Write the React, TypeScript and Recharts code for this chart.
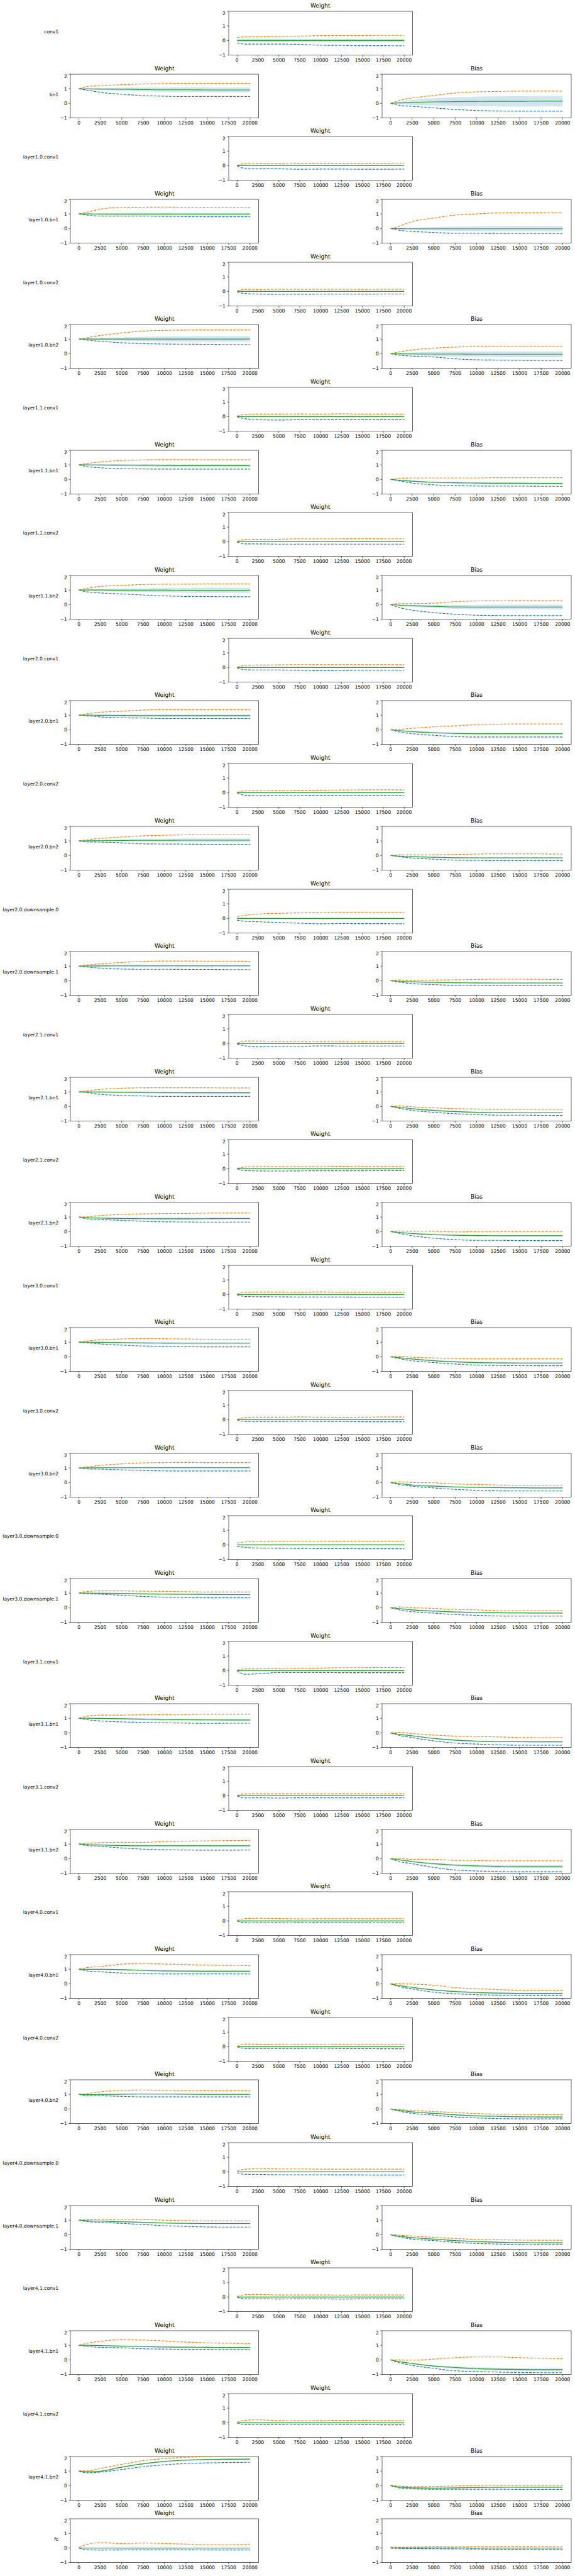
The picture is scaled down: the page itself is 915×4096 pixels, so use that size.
import { ComposedChart, Line, Area, XAxis, YAxis, ReferenceArea } from 'recharts';

// iteration grid shared by every panel
const X = [0, 1000, 2500, 5000, 7500, 10000, 12500, 15000, 17500, 20000];
const X_TICKS = [0, 2500, 5000, 7500, 10000, 12500, 15000, 17500, 20000];
const Y_TICKS = [-1, 0, 1, 2];

type Stats = { hi: number[]; lo: number[]; mean: number[]; sd: number[] };

const ZERO = [0, 0, 0, 0, 0, 0, 0, 0, 0, 0];
const CONV_SD = [0.02, 0.02, 0.02, 0.02, 0.02, 0.02, 0.02, 0.02, 0.02, 0.02];

// conv1
const conv1W: Stats = {
  hi: [0.2, 0.25, 0.25, 0.27, 0.3, 0.33, 0.34, 0.34, 0.35, 0.35],
  lo: [-0.18, -0.25, -0.25, -0.25, -0.27, -0.33, -0.34, -0.36, -0.36, -0.37],
  mean: ZERO,
  sd: [0.11, 0.11, 0.11, 0.11, 0.11, 0.11, 0.11, 0.11, 0.11, 0.11],
};
// bn1
const bn1W: Stats = {
  hi: [1.0, 1.16, 1.22, 1.28, 1.33, 1.36, 1.37, 1.37, 1.37, 1.37],
  lo: [1.0, 0.9, 0.76, 0.62, 0.54, 0.49, 0.47, 0.47, 0.47, 0.47],
  mean: [1.0, 0.99, 0.98, 0.97, 0.95, 0.93, 0.93, 0.92, 0.92, 0.92],
  sd: [0, 0.04, 0.07, 0.1, 0.13, 0.15, 0.16, 0.16, 0.165, 0.165],
};
const bn1B: Stats = {
  hi: [0, 0.2, 0.37, 0.54, 0.71, 0.79, 0.82, 0.84, 0.84, 0.84],
  lo: [0, -0.13, -0.2, -0.31, -0.42, -0.49, -0.52, -0.53, -0.53, -0.53],
  mean: [0, 0.03, 0.06, 0.1, 0.12, 0.13, 0.14, 0.14, 0.15, 0.15],
  sd: [0, 0.08, 0.17, 0.25, 0.3, 0.33, 0.35, 0.36, 0.365, 0.365],
};
// layer1
const l10c1W: Stats = {
  hi: [0.02, 0.13, 0.15, 0.15, 0.16, 0.16, 0.16, 0.16, 0.16, 0.15],
  lo: [-0.02, -0.2, -0.22, -0.22, -0.25, -0.24, -0.24, -0.25, -0.25, -0.24],
  mean: ZERO, sd: CONV_SD,
};
const l10b1W: Stats = {
  hi: [1.0, 1.12, 1.33, 1.45, 1.46, 1.47, 1.46, 1.46, 1.46, 1.46],
  lo: [1.0, 0.92, 0.85, 0.85, 0.85, 0.83, 0.82, 0.81, 0.81, 0.81],
  mean: [1, 1, 0.99, 0.99, 0.99, 0.99, 0.99, 0.99, 0.99, 0.99],
  sd: [0, 0.03, 0.05, 0.07, 0.08, 0.08, 0.08, 0.08, 0.08, 0.08],
};
const l10b1B: Stats = {
  hi: [0, 0.15, 0.48, 0.72, 0.92, 1.0, 1.07, 1.08, 1.08, 1.1],
  lo: [0, -0.12, -0.2, -0.27, -0.33, -0.33, -0.34, -0.34, -0.34, -0.34],
  mean: [0, -0.01, -0.02, -0.02, -0.02, -0.02, -0.02, -0.02, -0.02, -0.02],
  sd: [0, 0.04, 0.08, 0.12, 0.14, 0.16, 0.17, 0.17, 0.17, 0.17],
};
const l10c2W: Stats = {
  hi: [0.02, 0.14, 0.13, 0.15, 0.15, 0.15, 0.15, 0.14, 0.15, 0.15],
  lo: [-0.03, -0.15, -0.18, -0.2, -0.2, -0.19, -0.19, -0.19, -0.18, -0.18],
  mean: ZERO, sd: CONV_SD,
};
const l10b2W: Stats = {
  hi: [1.0, 1.1, 1.25, 1.42, 1.55, 1.6, 1.62, 1.63, 1.63, 1.63],
  lo: [1.0, 0.93, 0.85, 0.75, 0.69, 0.66, 0.65, 0.64, 0.63, 0.63],
  mean: [1, 1, 1, 1, 1, 1, 1, 1, 1, 1],
  sd: [0, 0.04, 0.08, 0.12, 0.16, 0.18, 0.19, 0.2, 0.2, 0.2],
};
const l10b2B: Stats = {
  hi: [0, 0.12, 0.25, 0.38, 0.45, 0.49, 0.5, 0.5, 0.5, 0.5],
  lo: [0, -0.1, -0.17, -0.23, -0.35, -0.42, -0.44, -0.46, -0.47, -0.47],
  mean: [0, -0.01, -0.02, -0.03, -0.03, -0.04, -0.04, -0.04, -0.04, -0.04],
  sd: [0, 0.05, 0.1, 0.14, 0.17, 0.18, 0.19, 0.2, 0.2, 0.2],
};
const l11c1W: Stats = {
  hi: [0.02, 0.15, 0.17, 0.17, 0.18, 0.17, 0.19, 0.17, 0.17, 0.17],
  lo: [-0.03, -0.15, -0.22, -0.24, -0.22, -0.22, -0.22, -0.22, -0.22, -0.22],
  mean: ZERO, sd: CONV_SD,
};
const l11b1W: Stats = {
  hi: [1.0, 1.1, 1.2, 1.3, 1.34, 1.36, 1.36, 1.35, 1.35, 1.35],
  lo: [1.0, 0.88, 0.8, 0.74, 0.72, 0.71, 0.71, 0.71, 0.71, 0.71],
  mean: [1, 1, 0.99, 0.98, 0.97, 0.96, 0.95, 0.95, 0.95, 0.95],
  sd: [0, 0.03, 0.05, 0.07, 0.08, 0.08, 0.08, 0.08, 0.08, 0.08],
};
const l11b1B: Stats = {
  hi: [0, 0.08, 0.1, 0.1, 0.1, 0.1, 0.12, 0.12, 0.12, 0.12],
  lo: [0, -0.1, -0.25, -0.37, -0.42, -0.45, -0.46, -0.46, -0.47, -0.47],
  mean: [0, -0.05, -0.12, -0.2, -0.23, -0.25, -0.26, -0.26, -0.27, -0.27],
  sd: [0, 0.03, 0.05, 0.06, 0.06, 0.06, 0.06, 0.06, 0.06, 0.06],
};
const l11c2W: Stats = {
  hi: [0.02, 0.15, 0.16, 0.17, 0.2, 0.2, 0.2, 0.21, 0.2, 0.2],
  lo: [-0.03, -0.15, -0.15, -0.17, -0.17, -0.17, -0.17, -0.17, -0.17, -0.17],
  mean: ZERO, sd: CONV_SD,
};
const l11b2W: Stats = {
  hi: [1.0, 1.12, 1.25, 1.32, 1.38, 1.4, 1.41, 1.42, 1.42, 1.42],
  lo: [1.0, 0.87, 0.8, 0.73, 0.66, 0.6, 0.56, 0.55, 0.54, 0.54],
  mean: [1, 1, 1, 0.99, 0.99, 0.99, 0.98, 0.98, 0.98, 0.98],
  sd: [0, 0.04, 0.07, 0.1, 0.13, 0.15, 0.17, 0.18, 0.18, 0.18],
};
const l11b2B: Stats = {
  hi: [0, 0.07, 0.07, 0.1, 0.2, 0.25, 0.26, 0.27, 0.27, 0.27],
  lo: [0, -0.2, -0.38, -0.55, -0.66, -0.73, -0.75, -0.76, -0.76, -0.76],
  mean: [0, -0.04, -0.08, -0.12, -0.16, -0.17, -0.17, -0.17, -0.17, -0.17],
  sd: [0, 0.04, 0.07, 0.1, 0.13, 0.15, 0.16, 0.16, 0.16, 0.16],
};
// layer2
const l20c1W: Stats = {
  hi: [0.02, 0.15, 0.17, 0.18, 0.2, 0.19, 0.19, 0.19, 0.19, 0.19],
  lo: [-0.03, -0.16, -0.17, -0.17, -0.2, -0.22, -0.21, -0.2, -0.2, -0.2],
  mean: ZERO, sd: CONV_SD,
};
const l20b1W: Stats = {
  hi: [1.0, 1.1, 1.2, 1.27, 1.35, 1.38, 1.38, 1.38, 1.38, 1.38],
  lo: [1.0, 0.95, 0.88, 0.82, 0.8, 0.77, 0.77, 0.77, 0.77, 0.77],
  mean: [1, 1, 0.99, 0.98, 0.97, 0.97, 0.97, 0.97, 0.97, 0.97],
  sd: [0, 0.03, 0.05, 0.06, 0.07, 0.07, 0.07, 0.07, 0.07, 0.07],
};
const l20b1B: Stats = {
  hi: [0, 0.03, 0.1, 0.2, 0.27, 0.35, 0.38, 0.4, 0.4, 0.4],
  lo: [0, -0.15, -0.27, -0.38, -0.47, -0.5, -0.5, -0.5, -0.5, -0.5],
  mean: [0, -0.06, -0.13, -0.2, -0.25, -0.27, -0.27, -0.27, -0.27, -0.27],
  sd: [0, 0.03, 0.05, 0.06, 0.06, 0.06, 0.06, 0.06, 0.06, 0.06],
};
const l20c2W: Stats = {
  hi: [0.02, 0.13, 0.14, 0.15, 0.16, 0.17, 0.18, 0.19, 0.19, 0.19],
  lo: [-0.03, -0.18, -0.2, -0.19, -0.19, -0.18, -0.18, -0.18, -0.18, -0.18],
  mean: ZERO, sd: CONV_SD,
};
const l20b2W: Stats = {
  hi: [1.0, 1.08, 1.17, 1.27, 1.35, 1.39, 1.42, 1.43, 1.43, 1.43],
  lo: [1.0, 0.93, 0.92, 0.87, 0.8, 0.79, 0.78, 0.77, 0.77, 0.77],
  mean: [1, 1.01, 1.02, 1.03, 1.04, 1.04, 1.05, 1.05, 1.05, 1.05],
  sd: [0, 0.03, 0.06, 0.08, 0.1, 0.11, 0.12, 0.12, 0.12, 0.12],
};
const l20b2B: Stats = {
  hi: [0, 0.05, 0.04, 0.05, 0.07, 0.1, 0.12, 0.12, 0.11, 0.1],
  lo: [0, -0.08, -0.17, -0.25, -0.32, -0.34, -0.35, -0.35, -0.35, -0.35],
  mean: [0, -0.04, -0.08, -0.12, -0.15, -0.16, -0.16, -0.16, -0.16, -0.16],
  sd: [0, 0.02, 0.04, 0.05, 0.05, 0.05, 0.05, 0.05, 0.05, 0.05],
};
const l20d0W: Stats = {
  hi: [0.12, 0.22, 0.3, 0.35, 0.38, 0.39, 0.41, 0.41, 0.41, 0.41],
  lo: [-0.12, -0.2, -0.23, -0.28, -0.33, -0.37, -0.35, -0.36, -0.36, -0.37],
  mean: ZERO,
  sd: [0.05, 0.05, 0.05, 0.05, 0.05, 0.05, 0.05, 0.05, 0.05, 0.05],
};
const l20d1W: Stats = {
  hi: [1.0, 1.08, 1.15, 1.25, 1.32, 1.35, 1.35, 1.34, 1.34, 1.33],
  lo: [1.0, 0.93, 0.86, 0.8, 0.78, 0.78, 0.77, 0.77, 0.76, 0.76],
  mean: [1, 1.01, 1.01, 1.02, 1.02, 1.02, 1.02, 1.02, 1.02, 1.02],
  sd: [0, 0.03, 0.05, 0.07, 0.08, 0.08, 0.08, 0.08, 0.08, 0.08],
};
const l20d1B: Stats = {
  hi: [0, 0.05, 0.03, 0.04, 0.06, 0.08, 0.1, 0.1, 0.09, 0.08],
  lo: [0, -0.1, -0.2, -0.27, -0.32, -0.34, -0.35, -0.35, -0.35, -0.35],
  mean: [0, -0.04, -0.08, -0.12, -0.14, -0.15, -0.16, -0.16, -0.16, -0.16],
  sd: [0, 0.02, 0.04, 0.05, 0.05, 0.05, 0.05, 0.05, 0.05, 0.05],
};
const l21c1W: Stats = {
  hi: [0.02, 0.17, 0.17, 0.16, 0.16, 0.15, 0.14, 0.13, 0.14, 0.14],
  lo: [-0.03, -0.16, -0.22, -0.19, -0.19, -0.16, -0.17, -0.17, -0.17, -0.17],
  mean: ZERO, sd: CONV_SD,
};
const l21b1W: Stats = {
  hi: [1.0, 1.08, 1.17, 1.25, 1.28, 1.28, 1.28, 1.28, 1.27, 1.27],
  lo: [1.0, 0.95, 0.83, 0.76, 0.72, 0.69, 0.69, 0.69, 0.69, 0.69],
  mean: [1, 1, 0.99, 0.98, 0.96, 0.95, 0.94, 0.94, 0.94, 0.94],
  sd: [0, 0.03, 0.05, 0.06, 0.07, 0.07, 0.07, 0.07, 0.07, 0.07],
};
const l21b1B: Stats = {
  hi: [0, 0.03, -0.02, -0.1, -0.15, -0.18, -0.2, -0.2, -0.2, -0.2],
  lo: [0, -0.12, -0.27, -0.4, -0.5, -0.55, -0.6, -0.6, -0.61, -0.62],
  mean: [0, -0.05, -0.15, -0.27, -0.35, -0.4, -0.42, -0.43, -0.43, -0.43],
  sd: [0, 0.02, 0.04, 0.05, 0.05, 0.05, 0.05, 0.05, 0.05, 0.05],
};
const l21c2W: Stats = {
  hi: [0.02, 0.12, 0.14, 0.14, 0.14, 0.14, 0.16, 0.15, 0.15, 0.15],
  lo: [-0.02, -0.13, -0.15, -0.16, -0.15, -0.14, -0.14, -0.14, -0.13, -0.13],
  mean: ZERO, sd: CONV_SD,
};
const l21b2W: Stats = {
  hi: [1.0, 1.02, 1.1, 1.18, 1.22, 1.24, 1.25, 1.27, 1.28, 1.28],
  lo: [1.0, 0.88, 0.83, 0.77, 0.71, 0.67, 0.66, 0.65, 0.65, 0.65],
  mean: [1.0, 0.95, 0.93, 0.9, 0.89, 0.88, 0.88, 0.89, 0.9, 0.9],
  sd: [0, 0.03, 0.05, 0.07, 0.08, 0.08, 0.08, 0.08, 0.08, 0.08],
};
const l21b2B: Stats = {
  hi: [0, 0.04, 0.03, 0.02, -0.02, 0.0, 0.01, 0.01, 0.01, 0.01],
  lo: [0, -0.12, -0.28, -0.45, -0.55, -0.6, -0.6, -0.62, -0.62, -0.62],
  mean: [0, -0.05, -0.13, -0.2, -0.25, -0.27, -0.28, -0.28, -0.28, -0.28],
  sd: [0, 0.02, 0.04, 0.05, 0.06, 0.06, 0.06, 0.06, 0.06, 0.06],
};
// layer3
const l30c1W: Stats = {
  hi: [0.03, 0.15, 0.17, 0.17, 0.16, 0.18, 0.16, 0.16, 0.16, 0.16],
  lo: [-0.02, -0.14, -0.15, -0.16, -0.17, -0.17, -0.17, -0.18, -0.18, -0.18],
  mean: ZERO, sd: CONV_SD,
};
const l30b1W: Stats = {
  hi: [1.0, 1.08, 1.17, 1.22, 1.25, 1.24, 1.22, 1.2, 1.2, 1.2],
  lo: [1.0, 0.95, 0.88, 0.8, 0.74, 0.72, 0.69, 0.68, 0.68, 0.68],
  mean: [1, 1, 0.99, 0.97, 0.95, 0.94, 0.93, 0.93, 0.93, 0.93],
  sd: [0, 0.02, 0.04, 0.05, 0.06, 0.06, 0.06, 0.06, 0.06, 0.06],
};
const l30b1B: Stats = {
  hi: [0, 0.03, -0.03, -0.08, -0.12, -0.14, -0.14, -0.14, -0.14, -0.14],
  lo: [0, -0.13, -0.27, -0.4, -0.5, -0.57, -0.6, -0.61, -0.62, -0.62],
  mean: [0, -0.06, -0.15, -0.27, -0.35, -0.4, -0.42, -0.43, -0.43, -0.43],
  sd: [0, 0.02, 0.04, 0.05, 0.06, 0.06, 0.06, 0.06, 0.06, 0.06],
};
const l30c2W: Stats = {
  hi: [0.02, 0.15, 0.17, 0.17, 0.18, 0.17, 0.16, 0.17, 0.18, 0.18],
  lo: [-0.02, -0.12, -0.12, -0.12, -0.11, -0.12, -0.12, -0.14, -0.14, -0.14],
  mean: ZERO, sd: CONV_SD,
};
const l30b2W: Stats = {
  hi: [1.0, 1.08, 1.18, 1.28, 1.35, 1.37, 1.38, 1.37, 1.37, 1.37],
  lo: [1.0, 0.93, 0.92, 0.87, 0.83, 0.8, 0.8, 0.8, 0.8, 0.8],
  mean: [1, 1.01, 1.02, 1.02, 1.02, 1.02, 1.02, 1.02, 1.02, 1.02],
  sd: [0, 0.02, 0.04, 0.05, 0.06, 0.06, 0.06, 0.06, 0.06, 0.06],
};
const l30b2B: Stats = {
  hi: [0, 0.05, 0.0, -0.02, -0.1, -0.13, -0.17, -0.18, -0.18, -0.18],
  lo: [0, -0.15, -0.25, -0.37, -0.47, -0.53, -0.57, -0.58, -0.58, -0.58],
  mean: [0, -0.07, -0.17, -0.25, -0.3, -0.33, -0.35, -0.36, -0.37, -0.37],
  sd: [0, 0.02, 0.04, 0.05, 0.05, 0.05, 0.05, 0.05, 0.05, 0.05],
};
const l30d0W: Stats = {
  hi: [0.12, 0.2, 0.22, 0.24, 0.24, 0.24, 0.25, 0.25, 0.25, 0.25],
  lo: [-0.1, -0.18, -0.22, -0.24, -0.25, -0.26, -0.26, -0.27, -0.27, -0.27],
  mean: ZERO,
  sd: [0.03, 0.03, 0.03, 0.03, 0.03, 0.03, 0.03, 0.03, 0.03, 0.03],
};
const l30d1W: Stats = {
  hi: [1.0, 1.12, 1.15, 1.15, 1.13, 1.12, 1.1, 1.08, 1.08, 1.08],
  lo: [1.0, 0.96, 0.93, 0.85, 0.77, 0.72, 0.7, 0.68, 0.68, 0.68],
  mean: [1, 1.0, 0.99, 0.98, 0.95, 0.93, 0.92, 0.91, 0.9, 0.9],
  sd: [0, 0.02, 0.03, 0.04, 0.05, 0.05, 0.05, 0.05, 0.05, 0.05],
};
const l30d1B: Stats = {
  hi: [0, 0.05, 0.0, -0.05, -0.12, -0.15, -0.2, -0.2, -0.2, -0.2],
  lo: [0, -0.15, -0.27, -0.37, -0.47, -0.52, -0.57, -0.58, -0.58, -0.58],
  mean: [0, -0.06, -0.15, -0.23, -0.29, -0.33, -0.35, -0.36, -0.37, -0.37],
  sd: [0, 0.02, 0.04, 0.05, 0.05, 0.05, 0.05, 0.05, 0.05, 0.05],
};
const l31c1W: Stats = {
  hi: [0.02, 0.12, 0.12, 0.14, 0.15, 0.17, 0.2, 0.2, 0.21, 0.21],
  lo: [-0.02, -0.25, -0.22, -0.13, -0.13, -0.13, -0.14, -0.14, -0.14, -0.14],
  mean: ZERO, sd: CONV_SD,
};
const l31b1W: Stats = {
  hi: [1.0, 1.15, 1.22, 1.22, 1.24, 1.25, 1.26, 1.28, 1.28, 1.28],
  lo: [1.0, 0.9, 0.82, 0.75, 0.72, 0.69, 0.67, 0.65, 0.66, 0.66],
  mean: [1, 1, 0.99, 0.97, 0.94, 0.91, 0.9, 0.89, 0.88, 0.88],
  sd: [0, 0.02, 0.04, 0.06, 0.07, 0.07, 0.07, 0.07, 0.07, 0.07],
};
const l31b1B: Stats = {
  hi: [0, 0.03, -0.05, -0.15, -0.22, -0.25, -0.28, -0.32, -0.33, -0.33],
  lo: [0, -0.17, -0.32, -0.55, -0.7, -0.77, -0.82, -0.85, -0.85, -0.85],
  mean: [0, -0.1, -0.2, -0.38, -0.5, -0.57, -0.6, -0.61, -0.62, -0.62],
  sd: [0, 0.02, 0.03, 0.04, 0.05, 0.05, 0.05, 0.05, 0.05, 0.05],
};
const l31c2W: Stats = {
  hi: [0.02, 0.13, 0.14, 0.14, 0.14, 0.13, 0.14, 0.14, 0.13, 0.13],
  lo: [-0.02, -0.15, -0.14, -0.16, -0.14, -0.14, -0.14, -0.14, -0.14, -0.14],
  mean: ZERO, sd: CONV_SD,
};
const l31b2W: Stats = {
  hi: [1.0, 1.05, 1.1, 1.12, 1.12, 1.17, 1.2, 1.22, 1.24, 1.25],
  lo: [1.0, 0.9, 0.85, 0.73, 0.65, 0.61, 0.59, 0.58, 0.58, 0.59],
  mean: [1.0, 0.96, 0.93, 0.9, 0.88, 0.88, 0.88, 0.88, 0.88, 0.88],
  sd: [0, 0.02, 0.04, 0.06, 0.07, 0.07, 0.07, 0.07, 0.07, 0.07],
};
const l31b2B: Stats = {
  hi: [0, 0.02, -0.05, -0.05, -0.12, -0.13, -0.15, -0.15, -0.15, -0.15],
  lo: [0, -0.2, -0.35, -0.6, -0.78, -0.85, -0.88, -0.9, -0.9, -0.9],
  mean: [0, -0.08, -0.2, -0.35, -0.45, -0.5, -0.53, -0.55, -0.55, -0.55],
  sd: [0, 0.03, 0.05, 0.07, 0.08, 0.09, 0.1, 0.1, 0.1, 0.1],
};
// layer4
const l40c1W: Stats = {
  hi: [0.02, 0.16, 0.18, 0.16, 0.14, 0.15, 0.15, 0.15, 0.15, 0.15],
  lo: [-0.02, -0.12, -0.13, -0.13, -0.12, -0.11, -0.12, -0.12, -0.13, -0.13],
  mean: ZERO, sd: CONV_SD,
};
const l40b1W: Stats = {
  hi: [1.0, 1.12, 1.18, 1.35, 1.4, 1.35, 1.32, 1.28, 1.26, 1.25],
  lo: [1.0, 0.88, 0.82, 0.74, 0.7, 0.68, 0.68, 0.68, 0.68, 0.68],
  mean: [1, 0.99, 0.99, 0.97, 0.92, 0.88, 0.87, 0.86, 0.86, 0.86],
  sd: [0, 0.02, 0.04, 0.05, 0.06, 0.06, 0.06, 0.06, 0.06, 0.06],
};
const l40b1B: Stats = {
  hi: [0, 0.0, -0.02, -0.1, -0.27, -0.33, -0.4, -0.44, -0.44, -0.44],
  lo: [0, -0.2, -0.35, -0.58, -0.68, -0.75, -0.78, -0.8, -0.8, -0.8],
  mean: [0, -0.12, -0.25, -0.42, -0.53, -0.6, -0.64, -0.66, -0.66, -0.66],
  sd: [0, 0.02, 0.03, 0.04, 0.05, 0.05, 0.05, 0.05, 0.05, 0.05],
};
const l40c2W: Stats = {
  hi: [0.02, 0.18, 0.17, 0.15, 0.14, 0.14, 0.15, 0.14, 0.14, 0.14],
  lo: [-0.02, -0.12, -0.12, -0.12, -0.12, -0.11, -0.13, -0.13, -0.14, -0.14],
  mean: ZERO, sd: CONV_SD,
};
const l40b2W: Stats = {
  hi: [1.0, 1.05, 1.18, 1.27, 1.3, 1.27, 1.26, 1.25, 1.25, 1.25],
  lo: [1.0, 0.9, 0.9, 0.86, 0.83, 0.83, 0.83, 0.83, 0.83, 0.83],
  mean: [1, 0.98, 0.99, 1.01, 1.02, 1.02, 1.01, 1.0, 1.0, 1.0],
  sd: [0, 0.02, 0.03, 0.04, 0.04, 0.04, 0.04, 0.04, 0.04, 0.04],
};
const l40b2B: Stats = {
  hi: [0, -0.05, -0.1, -0.18, -0.25, -0.32, -0.36, -0.38, -0.39, -0.39],
  lo: [0, -0.15, -0.3, -0.42, -0.55, -0.62, -0.66, -0.68, -0.68, -0.68],
  mean: [0, -0.1, -0.2, -0.3, -0.4, -0.47, -0.51, -0.54, -0.55, -0.55],
  sd: [0, 0.02, 0.03, 0.04, 0.05, 0.05, 0.05, 0.05, 0.05, 0.05],
};
const l40d0W: Stats = {
  hi: [0.07, 0.18, 0.22, 0.2, 0.2, 0.18, 0.18, 0.18, 0.18, 0.18],
  lo: [-0.07, -0.17, -0.18, -0.2, -0.2, -0.2, -0.21, -0.21, -0.22, -0.22],
  mean: ZERO, sd: CONV_SD,
};
const l40d1W: Stats = {
  hi: [1.0, 1.03, 1.04, 1.05, 1.04, 1.0, 0.97, 0.95, 0.95, 0.95],
  lo: [1.0, 0.9, 0.85, 0.78, 0.7, 0.62, 0.57, 0.53, 0.52, 0.52],
  mean: [1.0, 0.96, 0.93, 0.89, 0.85, 0.8, 0.78, 0.77, 0.77, 0.77],
  sd: [0, 0.02, 0.03, 0.04, 0.04, 0.04, 0.04, 0.04, 0.04, 0.04],
};
const l40d1B: Stats = {
  hi: [0, -0.03, -0.1, -0.18, -0.26, -0.32, -0.35, -0.37, -0.38, -0.38],
  lo: [0, -0.15, -0.3, -0.4, -0.52, -0.6, -0.64, -0.67, -0.68, -0.68],
  mean: [0, -0.1, -0.2, -0.3, -0.4, -0.47, -0.52, -0.54, -0.55, -0.55],
  sd: [0, 0.02, 0.03, 0.04, 0.04, 0.04, 0.04, 0.04, 0.04, 0.04],
};
const l41c1W: Stats = {
  hi: [0.02, 0.16, 0.17, 0.14, 0.14, 0.14, 0.13, 0.14, 0.14, 0.14],
  lo: [-0.02, -0.13, -0.13, -0.14, -0.13, -0.13, -0.15, -0.13, -0.13, -0.13],
  mean: ZERO, sd: CONV_SD,
};
const l41b1W: Stats = {
  hi: [1.0, 1.15, 1.27, 1.4, 1.36, 1.3, 1.22, 1.17, 1.14, 1.12],
  lo: [1.0, 0.92, 0.86, 0.83, 0.76, 0.74, 0.72, 0.72, 0.71, 0.71],
  mean: [1.0, 1.0, 0.98, 0.95, 0.91, 0.88, 0.87, 0.86, 0.85, 0.85],
  sd: [0, 0.02, 0.03, 0.04, 0.05, 0.05, 0.05, 0.05, 0.05, 0.05],
};
const l41b1B: Stats = {
  hi: [0, 0.0, -0.02, 0.05, 0.15, 0.2, 0.2, 0.15, 0.11, 0.08],
  lo: [0, -0.2, -0.38, -0.58, -0.75, -0.8, -0.84, -0.87, -0.88, -0.88],
  mean: [0, -0.12, -0.25, -0.42, -0.52, -0.6, -0.64, -0.66, -0.67, -0.67],
  sd: [0, 0.02, 0.04, 0.06, 0.08, 0.09, 0.1, 0.1, 0.1, 0.1],
};
const l41c2W: Stats = {
  hi: [0.02, 0.17, 0.2, 0.15, 0.14, 0.15, 0.16, 0.16, 0.15, 0.15],
  lo: [-0.02, -0.12, -0.12, -0.12, -0.11, -0.11, -0.12, -0.13, -0.14, -0.14],
  mean: ZERO, sd: CONV_SD,
};
const l41b2W: Stats = {
  hi: [1.02, 1.01, 1.18, 1.46, 1.72, 1.86, 1.95, 2.0, 2.03, 2.05],
  lo: [1.0, 0.88, 0.93, 1.1, 1.3, 1.43, 1.52, 1.56, 1.59, 1.6],
  mean: [1.0, 0.95, 0.99, 1.27, 1.5, 1.66, 1.75, 1.79, 1.81, 1.82],
  sd: [0, 0.02, 0.03, 0.04, 0.05, 0.05, 0.05, 0.05, 0.05, 0.05],
};
const l41b2B: Stats = {
  hi: [0.03, -0.03, -0.07, -0.06, -0.02, 0.0, 0.02, 0.02, 0.02, 0.02],
  lo: [0, -0.15, -0.22, -0.25, -0.25, -0.25, -0.25, -0.26, -0.26, -0.26],
  mean: [0, -0.1, -0.15, -0.17, -0.15, -0.13, -0.12, -0.11, -0.11, -0.11],
  sd: [0, 0.02, 0.03, 0.03, 0.03, 0.03, 0.03, 0.03, 0.03, 0.03],
};
// fc
const fcW: Stats = {
  hi: [0.05, 0.25, 0.36, 0.3, 0.33, 0.3, 0.26, 0.23, 0.23, 0.24],
  lo: [-0.02, -0.13, -0.15, -0.14, -0.13, -0.13, -0.13, -0.14, -0.14, -0.15],
  mean: [0, -0.01, -0.01, -0.01, -0.01, -0.01, -0.02, -0.02, -0.02, -0.02],
  sd: CONV_SD,
};
const fcB: Stats = {
  hi: [0.05, 0.05, 0.06, 0.08, 0.1, 0.12, 0.12, 0.12, 0.11, 0.1],
  lo: [-0.02, -0.04, -0.05, -0.06, -0.07, -0.08, -0.1, -0.1, -0.11, -0.11],
  mean: [0, 0, 0, 0, 0, -0.01, -0.01, -0.01, -0.01, -0.01],
  sd: CONV_SD,
};

type Row = { name: string; w: Stats; b?: Stats };

const ROWS: Row[] = [
  { name: 'conv1', w: conv1W },
  { name: 'bn1', w: bn1W, b: bn1B },
  { name: 'layer1.0.conv1', w: l10c1W },
  { name: 'layer1.0.bn1', w: l10b1W, b: l10b1B },
  { name: 'layer1.0.conv2', w: l10c2W },
  { name: 'layer1.0.bn2', w: l10b2W, b: l10b2B },
  { name: 'layer1.1.conv1', w: l11c1W },
  { name: 'layer1.1.bn1', w: l11b1W, b: l11b1B },
  { name: 'layer1.1.conv2', w: l11c2W },
  { name: 'layer1.1.bn2', w: l11b2W, b: l11b2B },
  { name: 'layer2.0.conv1', w: l20c1W },
  { name: 'layer2.0.bn1', w: l20b1W, b: l20b1B },
  { name: 'layer2.0.conv2', w: l20c2W },
  { name: 'layer2.0.bn2', w: l20b2W, b: l20b2B },
  { name: 'layer2.0.downsample.0', w: l20d0W },
  { name: 'layer2.0.downsample.1', w: l20d1W, b: l20d1B },
  { name: 'layer2.1.conv1', w: l21c1W },
  { name: 'layer2.1.bn1', w: l21b1W, b: l21b1B },
  { name: 'layer2.1.conv2', w: l21c2W },
  { name: 'layer2.1.bn2', w: l21b2W, b: l21b2B },
  { name: 'layer3.0.conv1', w: l30c1W },
  { name: 'layer3.0.bn1', w: l30b1W, b: l30b1B },
  { name: 'layer3.0.conv2', w: l30c2W },
  { name: 'layer3.0.bn2', w: l30b2W, b: l30b2B },
  { name: 'layer3.0.downsample.0', w: l30d0W },
  { name: 'layer3.0.downsample.1', w: l30d1W, b: l30d1B },
  { name: 'layer3.1.conv1', w: l31c1W },
  { name: 'layer3.1.bn1', w: l31b1W, b: l31b1B },
  { name: 'layer3.1.conv2', w: l31c2W },
  { name: 'layer3.1.bn2', w: l31b2W, b: l31b2B },
  { name: 'layer4.0.conv1', w: l40c1W },
  { name: 'layer4.0.bn1', w: l40b1W, b: l40b1B },
  { name: 'layer4.0.conv2', w: l40c2W },
  { name: 'layer4.0.bn2', w: l40b2W, b: l40b2B },
  { name: 'layer4.0.downsample.0', w: l40d0W },
  { name: 'layer4.0.downsample.1', w: l40d1W, b: l40d1B },
  { name: 'layer4.1.conv1', w: l41c1W },
  { name: 'layer4.1.bn1', w: l41b1W, b: l41b1B },
  { name: 'layer4.1.conv2', w: l41c2W },
  { name: 'layer4.1.bn2', w: l41b2W, b: l41b2B },
  { name: 'fc', w: fcW, b: fcB },
];

const FONT = '"DejaVu Sans", sans-serif';
const BLUE = '#1f77b4';
const ORANGE = '#ff7f0e';
const GREEN = '#2ca02c';

// layout (px)
const ROW_TOP = 18;
const ROW_PITCH = 99.68;
const AX_H = 69.5;
const Y_W = 34;
const X_H = 22;
const SINGLE = { left: 363.5, width: 292.5 };
const LEFT = { left: 112, width: 299.5 };
const RIGHT = { left: 608, width: 301 };

const fmtY = (v: number) => (v < 0 ? '\u2212' + Math.abs(v) : String(v));

function StatPanel({ s, left, top, width, title }: { s: Stats; left: number; top: number; width: number; title: string }) {
  const data = X.map((x, i) => ({
    x,
    hi: s.hi[i],
    lo: s.lo[i],
    mean: s.mean[i],
    band: [s.mean[i] - s.sd[i], s.mean[i] + s.sd[i]],
  }));
  const tick = { fontSize: 7.6, fill: '#000', fontFamily: FONT };
  return (
    <>
      <div
        style={{
          position: 'absolute',
          left,
          width,
          top: top - 14,
          textAlign: 'center',
          fontSize: 9.1,
          lineHeight: '11px',
          fontFamily: FONT,
          color: '#000',
        }}
      >
        {title}
      </div>
      <div style={{ position: 'absolute', left: left - Y_W, top: top - 1 }}>
        <ComposedChart
          width={Y_W + width + 1}
          height={1 + AX_H + X_H}
          data={data}
          margin={{ top: 1, right: 1, left: 0, bottom: 0 }}
        >
          <XAxis
            dataKey="x"
            type="number"
            domain={[-1000, 21000]}
            ticks={X_TICKS}
            interval={0}
            height={X_H}
            tick={tick}
            tickSize={2.7}
            tickMargin={2.5}
            axisLine={false}
            tickLine={{ stroke: '#000', strokeWidth: 0.6 }}
          />
          <YAxis
            type="number"
            domain={[-1, 2]}
            ticks={Y_TICKS}
            allowDataOverflow
            width={Y_W}
            tick={tick}
            tickSize={2.7}
            tickMargin={2.5}
            tickFormatter={fmtY}
            axisLine={false}
            tickLine={{ stroke: '#000', strokeWidth: 0.6 }}
          />
          <Area
            dataKey="band"
            type="monotone"
            stroke="none"
            fill={BLUE}
            fillOpacity={0.2}
            isAnimationActive={false}
            dot={false}
            activeDot={false}
          />
          <Line dataKey="lo" type="monotone" stroke={BLUE} strokeWidth={1.15} strokeDasharray="4.2 1.8" dot={false} activeDot={false} isAnimationActive={false} />
          <Line dataKey="hi" type="monotone" stroke={ORANGE} strokeWidth={1.15} strokeDasharray="4.2 1.8" dot={false} activeDot={false} isAnimationActive={false} />
          <Line dataKey="mean" type="monotone" stroke={GREEN} strokeWidth={1.15} dot={false} activeDot={false} isAnimationActive={false} />
          <ReferenceArea x1={-1000} x2={21000} y1={-1} y2={2} fill="none" stroke="#000" strokeWidth={0.6} ifOverflow="visible" />
        </ComposedChart>
      </div>
    </>
  );
}

export default function App() {
  return (
    <div style={{ position: 'relative', width: 915, height: 4096, background: '#fff', fontFamily: FONT, overflow: 'hidden' }}>
      <style>{'body{margin:0}'}</style>
      {ROWS.map((r, i) => {
        const top = ROW_TOP + ROW_PITCH * i;
        return (
          <div key={r.name}>
            <div
              style={{
                position: 'absolute',
                right: 915 - 93.2,
                top: top + 28,
                fontSize: 7.6,
                lineHeight: '9px',
                whiteSpace: 'nowrap',
                color: '#000',
              }}
            >
              {r.name}
            </div>
            {r.b ? (
              <>
                <StatPanel s={r.w} left={LEFT.left} width={LEFT.width} top={top} title="Weight" />
                <StatPanel s={r.b} left={RIGHT.left} width={RIGHT.width} top={top} title="Bias" />
              </>
            ) : (
              <StatPanel s={r.w} left={SINGLE.left} width={SINGLE.width} top={top} title="Weight" />
            )}
          </div>
        );
      })}
    </div>
  );
}
